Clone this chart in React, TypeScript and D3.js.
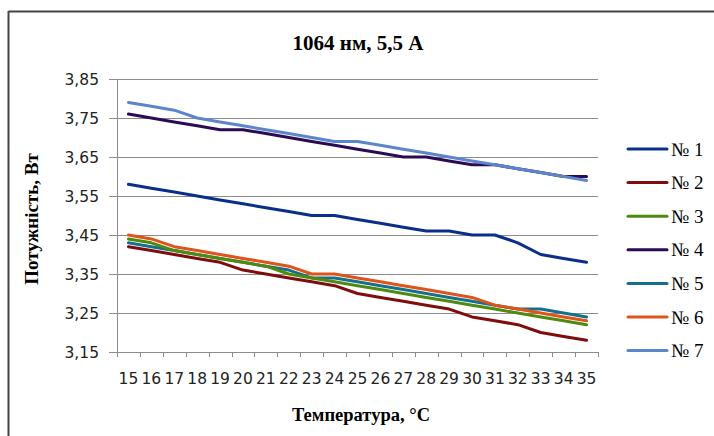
import React from "react";
import * as d3 from "d3";

const temps = [15,16,17,18,19,20,21,22,23,24,25,26,27,28,29,30,31,32,33,34,35];
const yTicks = [3.15,3.25,3.35,3.45,3.55,3.65,3.75,3.85];
const s1 = [3.58,3.57,3.56,3.55,3.54,3.53,3.52,3.51,3.50,3.50,3.49,3.48,3.47,3.46,3.46,3.45,3.45,3.43,3.40,3.39,3.38];
const s2 = [3.42,3.41,3.40,3.39,3.38,3.36,3.35,3.34,3.33,3.32,3.30,3.29,3.28,3.27,3.26,3.24,3.23,3.22,3.20,3.19,3.18];
const s3 = [3.44,3.43,3.41,3.40,3.39,3.38,3.37,3.35,3.34,3.33,3.32,3.31,3.30,3.29,3.28,3.27,3.26,3.25,3.24,3.23,3.22];
const s4 = [3.76,3.75,3.74,3.73,3.72,3.72,3.71,3.70,3.69,3.68,3.67,3.66,3.65,3.65,3.64,3.63,3.63,3.62,3.61,3.60,3.60];
const s5 = [3.43,3.42,3.41,3.40,3.39,3.38,3.37,3.36,3.34,3.34,3.33,3.32,3.31,3.30,3.29,3.28,3.27,3.26,3.26,3.25,3.24];
const s6 = [3.45,3.44,3.42,3.41,3.40,3.39,3.38,3.37,3.35,3.35,3.34,3.33,3.32,3.31,3.30,3.29,3.27,3.26,3.25,3.24,3.23];
const s7 = [3.79,3.78,3.77,3.75,3.74,3.73,3.72,3.71,3.70,3.69,3.69,3.68,3.67,3.66,3.65,3.64,3.63,3.62,3.61,3.60,3.59];
const seriesNames = ["№ 1","№ 2","№ 3","№ 4","№ 5","№ 6","№ 7"];
const seriesValues = [s1,s2,s3,s4,s5,s6,s7];
const colors = ["#0b2e8a","#7f0d0d","#4f8a10","#2b0b55","#13708f","#e0531a","#5b86cc"];
const drawOrder = [0,1,4,2,5,3,6];

export default function App() {
  const left = 117, right = 598, top = 79, bottom = 352;
  const x = d3.scaleBand<number>().domain(temps).range([left, right]);
  const y = d3.scaleLinear().domain([3.15, 3.85]).range([bottom, top]);
  const line = d3.line<number>()
    .x((_, i) => (x(temps[i]) as number) + x.bandwidth() / 2)
    .y((v) => y(v));
  const sans = "DejaVu Sans, Verdana, sans-serif";
  const serif = "Liberation Serif, Times New Roman, serif";
  return (
    <svg width={714} height={436} style={{ position: "absolute", left: 0, top: 0, background: "#fff" }}>
      <rect x={0} y={0} width={714} height={436} fill="#fff" />
      <line x1={8.5} y1={11.5} x2={714} y2={11.5} stroke="#444" strokeWidth={2} />
      <line x1={8.5} y1={11} x2={8.5} y2={436} stroke="#444" strokeWidth={2} />
      <text x={358} y={50} textAnchor="middle" fontFamily={serif} fontWeight="bold" fontSize={21}>1064 нм, 5,5 А</text>
      {yTicks.map((t) => (
        <g key={t}>
          <line x1={left - 8} x2={right} y1={Math.round(y(t)) + 0.5} y2={Math.round(y(t)) + 0.5} stroke="#8c8c8c" strokeWidth={1} />
          <text x={99} y={y(t) + 5.5} textAnchor="end" fontFamily={sans} fontSize={15.5} fill="#222">{t.toFixed(2).replace(".", ",")}</text>
        </g>
      ))}
      <line x1={left + 0.5} x2={left + 0.5} y1={top} y2={bottom} stroke="#8c8c8c" />
      <line x1={left} x2={right} y1={bottom + 0.5} y2={bottom + 0.5} stroke="#8c8c8c" />
      {temps.map((t) => (
        <g key={t}>
          <line x1={Math.round(x(t) as number) + 0.5} x2={Math.round(x(t) as number) + 0.5} y1={bottom} y2={bottom + 5} stroke="#8c8c8c" />
          <text x={(x(t) as number) + x.bandwidth() / 2} y={384} textAnchor="middle" fontFamily={sans} fontSize={15.5} fill="#222">{t}</text>
        </g>
      ))}
      <line x1={right + 0.5} x2={right + 0.5} y1={bottom} y2={bottom + 5} stroke="#8c8c8c" />
      {drawOrder.map((i) => (
        <path key={i} d={line(seriesValues[i]) || ""} fill="none" stroke={colors[i]} strokeWidth={3} strokeLinejoin="round" strokeLinecap="round" />
      ))}
      <text x={361} y={421} textAnchor="middle" fontFamily={serif} fontWeight="bold" fontSize={18.5}>Температура, °C</text>
      <text transform="translate(38,219) rotate(-90)" textAnchor="middle" fontFamily={serif} fontWeight="bold" fontSize={19}>Потужність, Вт</text>
      {seriesNames.map((n, i) => (
        <g key={n}>
          <line x1={628} x2={667} y1={149 + i * 33.6} y2={149 + i * 33.6} stroke={colors[i]} strokeWidth={3} strokeLinecap="round" />
          <text x={671} y={149 + i * 33.6 + 6.5} fontFamily={serif} fontSize={19}>{n}</text>
        </g>
      ))}
    </svg>
  );
}
